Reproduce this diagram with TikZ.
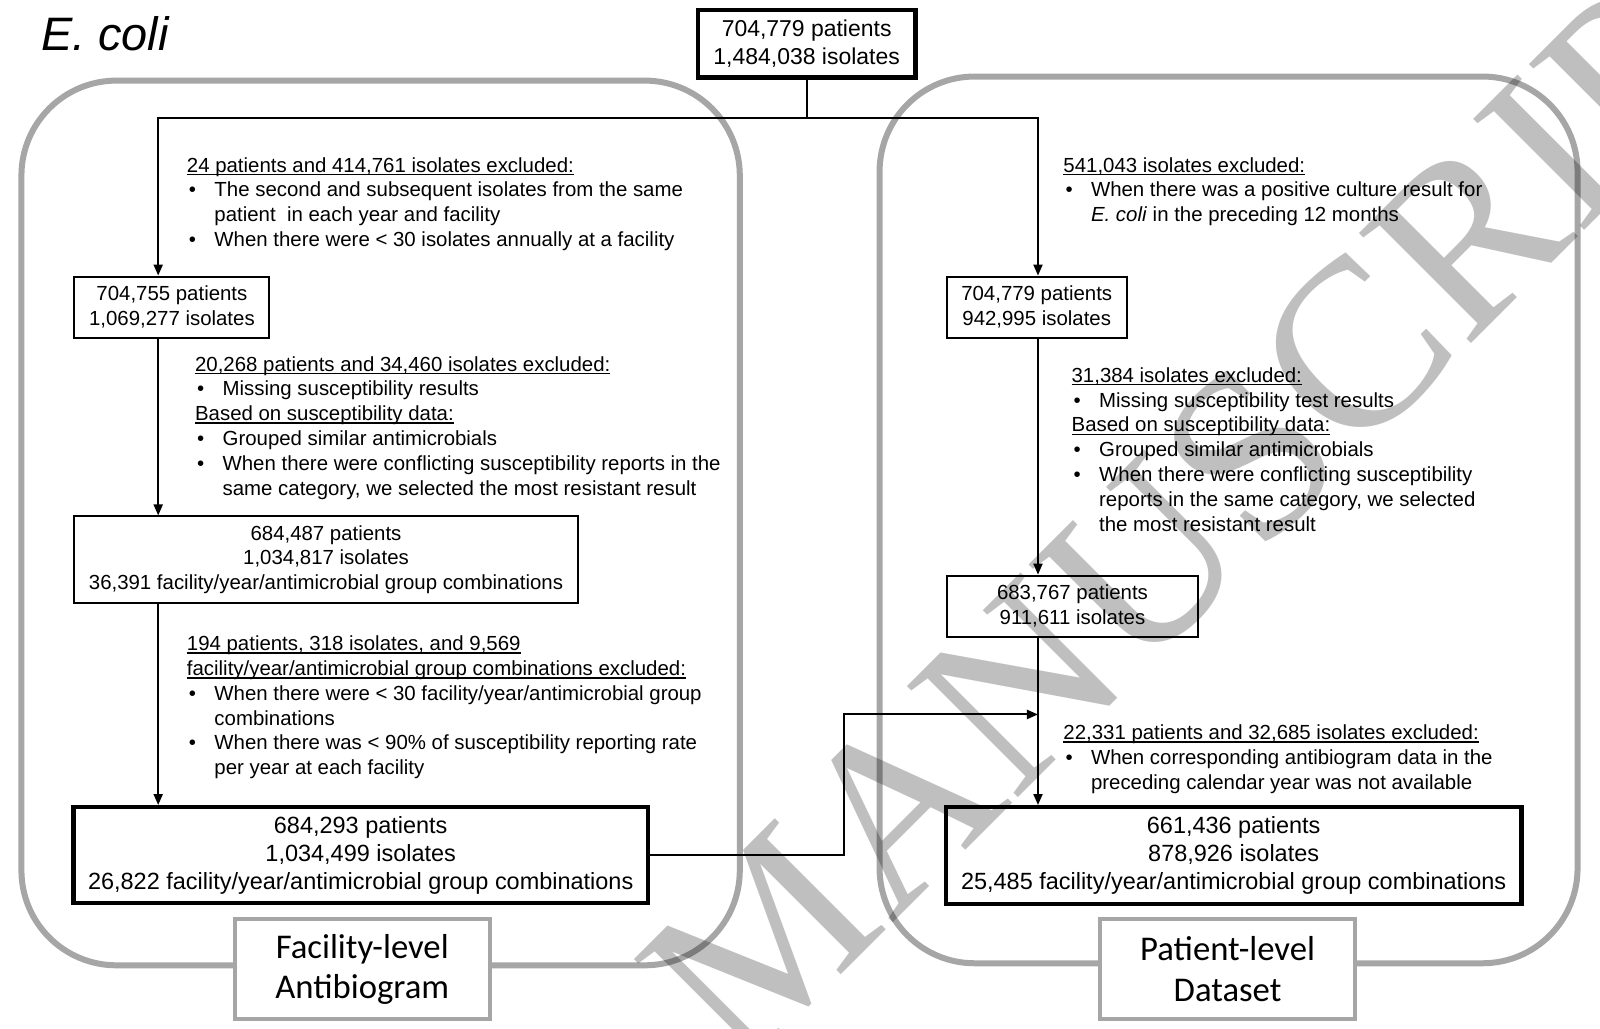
\documentclass[tikz,border=0pt]{standalone}
\usepackage{fontspec}
\setmainfont{Liberation Sans}
\newfontfamily\lblfont{Carlito}
\newfontfamily\wmfont{Liberation Serif}
\usetikzlibrary{arrows.meta}
\definecolor{grayline}{RGB}{166,166,166}
\newcommand\bul{\makebox[27pt][l]{\hspace*{2pt}\textbullet}}
\newcommand\ind{\hspace*{27pt}}
\newcommand\hd[1]{\setbox0\hbox{#1}\rlap{\rule[-3pt]{\wd0}{1.3pt}}\box0}
\begin{document}
\begin{tikzpicture}[x=1pt,y=-1pt,scale=1.0204,transform shape,
  every node/.style={inner sep=0pt, text=black},
  tx/.style={font=\fontsize{20}{24.3}\selectfont, align=left, anchor=north west},
  bx/.style={draw, line width=2pt, align=center, font=\fontsize{20}{24.3}\selectfont},
  bigbx/.style={draw, line width=4.5pt, align=center, font=\fontsize{23}{27.5}\selectfont},
  grp/.style={draw=grayline, line width=6pt, rounded corners=95pt},
  lbl/.style={draw=grayline, line width=4pt, fill=white, align=center, font=\lblfont\fontsize{34}{40}\selectfont, minimum width=250pt, minimum height=98pt},
  ln/.style={line width=2pt},
  arr/.style={line width=2pt, -{Triangle[length=11pt,width=9pt]}}
]
\fill[white] (0,0) rectangle (1568,1007.5);
\useasboundingbox (0,0) rectangle (1568,1007.5);

% group frames
\draw[grp] (21,79) rectangle (725,946);
\draw[grp] (862,75) rectangle (1546,944);
\node[lbl] (lab1) at (355,950) {Facility-level\\Antibiogram};
\node[lbl] (lab2) at (1203,950) {Patient-level\\Dataset};

% title
\node[anchor=west, font=\itshape\fontsize{46}{50}\selectfont] (title) at (40,33) {E. coli};

% boxes
\node[bigbx, font=\fontsize{22.5}{27}\selectfont, minimum width=213pt, minimum height=66pt] (top) at (790.5,43) {704,779 patients\\1,484,038 isolates};
\node[bx, minimum width=191pt, minimum height=60pt] (L1) at (168.5,301) {704,755 patients\\1,069,277 isolates};
\node[bx, minimum width=493pt, minimum height=85pt] (L2) at (319.5,548.5) {684,487 patients\\1,034,817 isolates\\36,391 facility/year/antimicrobial group combinations};
\node[bigbx, minimum width=563pt, minimum height=94pt] (L3) at (353.5,838) {684,293 patients\\1,034,499 isolates\\26,822 facility/year/antimicrobial group combinations};
\node[bx, minimum width=176pt, minimum height=60pt] (R1) at (1016,301) {704,779 patients\\942,995 isolates};
\node[bx, minimum width=246pt, minimum height=60pt] (R2) at (1051,594) {683,767 patients\\911,611 isolates};
\node[bigbx, minimum width=564pt, minimum height=95pt] (R3) at (1209,838.5) {661,436 patients\\878,926 isolates\\25,485 facility/year/antimicrobial group combinations};

% connectors
\coordinate (jn) at (790.5,116);
\coordinate (lx) at (155,0);
\coordinate (rx) at (1017,0);
\coordinate (mx) at (827,700);
\draw[ln] (top.south) -- (jn);
\draw[arr] (jn) -| (L1.north -| lx);
\draw[arr] (jn) -| (R1.north -| rx);
\draw[arr] (L1.south -| lx) -- (L2.north -| lx);
\draw[arr] (L2.south -| lx) -- (L3.north -| lx);
\draw[arr] (R1.south -| rx) -- (R2.north -| rx);
\draw[arr] (R2.south -| rx) -- (R3.north -| rx);
\draw[arr] (L3.east) -| (mx) -- (mx -| rx);

% exclusion texts
\node[tx] (t1) at (183,154) {\hd{24 patients and 414,761 isolates excluded:}\\
\bul The second and subsequent isolates from the same\\
\ind patient\ \ in each year and facility\\
\bul When there were < 30 isolates annually at a facility};
\node[tx] (t2) at (191,349) {\hd{20,268 patients and 34,460 isolates excluded:}\\
\bul Missing susceptibility results\\
\hd{Based on susceptibility data:}\\
\bul Grouped similar antimicrobials\\
\bul When there were conflicting susceptibility reports in the\\
\ind same category, we selected the most resistant result};
\node[tx] (t3) at (183,623) {\hd{194 patients, 318 isolates, and 9,569}\\
\hd{facility/year/antimicrobial group combinations excluded:}\\
\bul When there were < 30 facility/year/antimicrobial group\\
\ind combinations\\
\bul When there was < 90\% of susceptibility reporting rate\\
\ind per year at each facility};
\node[tx] (rt1) at (1042,154) {\hd{541,043 isolates excluded:}\\
\bul When there was a positive culture result for\\
\ind \textit{E. coli} in the preceding 12 months};
\node[tx] (rt2) at (1050,360) {\hd{31,384 isolates excluded:}\\
\bul Missing susceptibility test results\\
\hd{Based on susceptibility data:}\\
\bul Grouped similar antimicrobials\\
\bul When there were conflicting susceptibility\\
\ind reports in the same category, we selected\\
\ind the most resistant result};
\node[tx] (rt3) at (1042,710) {\hd{22,331 patients and 32,685 isolates excluded:}\\
\bul When corresponding antibiogram data in the\\
\ind preceding calendar year was not available};

% watermark
\node[font=\wmfont\fontsize{235}{235}\selectfont, text=black, text opacity=0.25, rotate=45] (wm) at (1207,464) {MANUSCRIPT};
\end{tikzpicture}
\end{document}
